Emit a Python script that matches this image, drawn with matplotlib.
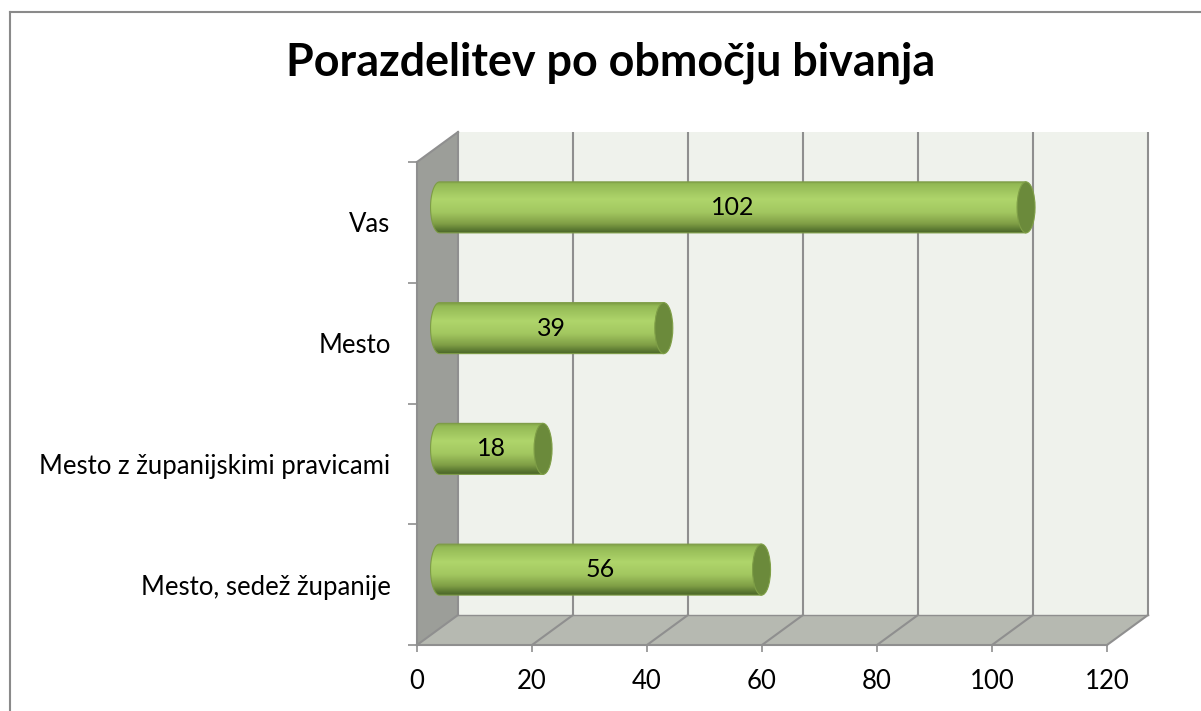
import numpy as np
import matplotlib
matplotlib.use("Agg")
import matplotlib.pyplot as plt
from matplotlib.patches import Polygon, Rectangle, PathPatch, Ellipse
from matplotlib.path import Path
from matplotlib.lines import Line2D
from matplotlib.colors import LinearSegmentedColormap

# ---- data ----
categories = ["Mesto, sedež županije", "Mesto z županijskimi pravicami", "Mesto", "Vas"]
values = [56, 18, 39, 102]
xticks = [0, 20, 40, 60, 80, 100, 120]
title = "Porazdelitev po območju bivanja"

FONT = ["Lato", "DejaVu Sans"]
plt.rcParams["font.family"] = FONT

W, H = 1201, 711
fig = plt.figure(figsize=(W / 100, H / 100), dpi=100)
fig.patch.set_facecolor("white")

# front plane of the plot: x 417..1107 px, y 162..645 px
ax = fig.add_axes([417 / W, (H - 645) / H, 690 / W, (645 - 162) / H])
XMAX = 120
ax.set_xlim(0, XMAX)
ax.set_ylim(-0.5, len(categories) - 0.5)
ax.patch.set_visible(False)
for s in ax.spines.values():
    s.set_visible(False)

px_x = 690 / XMAX          # pixels per x unit
px_y = (645 - 162) / len(categories)
dx = 41 / px_x             # depth offset in data units
dy = 30 / px_y
y0, y1 = -0.5, len(categories) - 0.5

grid_c = "#8f8f8f"
lw_grid = 1.5

# back wall
ax.add_patch(Rectangle((dx, y0 + dy), XMAX, y1 - y0, facecolor="#eff2ec",
                       edgecolor="none", zorder=1, clip_on=False))
# floor
ax.add_patch(Polygon([(0, y0), (XMAX, y0), (XMAX + dx, y0 + dy), (dx, y0 + dy)],
                     closed=True, facecolor="#b6b9b1", edgecolor="none",
                     zorder=1, clip_on=False))
# left wall
ax.add_patch(Polygon([(0, y0), (dx, y0 + dy), (dx, y1 + dy), (0, y1)],
                     closed=True, facecolor="#9c9e99", edgecolor="none",
                     zorder=1, clip_on=False))

# gridlines on back wall and floor
for t in xticks:
    if t > 0:
        ax.plot([t + dx, t + dx], [y0 + dy, y1 + dy], color=grid_c, lw=lw_grid,
                zorder=2, clip_on=False, solid_capstyle="butt")
    ax.plot([t, t + dx], [y0, y0 + dy], color=grid_c, lw=lw_grid, zorder=2,
            clip_on=False)
# left wall edges
ax.plot([dx, dx], [y0 + dy, y1 + dy], color=grid_c, lw=lw_grid, zorder=2, clip_on=False)
ax.plot([0, dx], [y1, y1 + dy], color=grid_c, lw=lw_grid, zorder=2, clip_on=False)
ax.plot([0, 0], [y0, y1], color=grid_c, lw=lw_grid, zorder=2, clip_on=False)
ax.plot([0, XMAX], [y0, y0], color=grid_c, lw=lw_grid, zorder=2, clip_on=False)
ax.plot([dx, XMAX + dx], [y0 + dy, y0 + dy], color=grid_c, lw=1.0, zorder=2, clip_on=False)

# cylinders
cmap = LinearSegmentedColormap.from_list("cyl", [
    (0.00, "#7e9f45"),
    (0.06, "#93b955"),
    (0.35, "#afd56b"),
    (0.60, "#a2c760"),
    (0.82, "#809f46"),
    (0.93, "#5d7b33"),
    (1.00, "#4a6428"),
])
grad = np.linspace(0, 1, 256).reshape(-1, 1)
h = 25.5 / px_y
rx = 9.0 / px_x
off = 0.55 * dx
for i, (cat, v) in enumerate(zip(categories, values)):
    yc = i + dy / 2
    xs = off
    xe = v + off
    theta = np.linspace(np.pi / 2, 3 * np.pi / 2, 40)
    verts = [(xs, yc - h), (xe, yc - h), (xe, yc + h), (xs, yc + h)] + \
            [(xs + rx * np.cos(t), yc + h * np.sin(t)) for t in theta] + [(xs, yc - h)]
    path = Path(verts)
    body = PathPatch(path, facecolor="none", edgecolor="#7d9c46", lw=0.8,
                     zorder=4, clip_on=False)
    ax.add_patch(body)
    im = ax.imshow(grad, cmap=cmap, aspect="auto", origin="upper",
                   extent=(xs - rx, xe, yc - h, yc + h), zorder=3,
                   interpolation="bilinear")
    im.set_clip_path(body)
    ax.add_patch(Ellipse((xe, yc), 2 * rx, 2 * h, facecolor="#6b8a3b",
                         edgecolor="#7f9f47", lw=0.8, zorder=5, clip_on=False))
    ax.text((xs + xe) / 2, yc, str(v), ha="center", va="center", fontsize=18,
            color="black", zorder=6)

ax.set_xlim(0, XMAX)
ax.set_ylim(y0, y1)
ax.set_aspect("auto")

# ticks
ax.set_xticks(xticks)
ax.set_xticklabels([str(t) for t in xticks], fontsize=18.5)
ax.tick_params(axis="x", length=5, width=1.2, color=grid_c, pad=12)
ax.set_yticks(range(len(categories)))
ax.set_yticklabels(categories, fontsize=18.5)
ax.tick_params(axis="y", length=0, pad=19)
ax.set_yticks([y0 + k for k in range(len(categories) + 1)], minor=True)
ax.tick_params(axis="y", which="minor", length=6.5, width=1.2, color=grid_c)

# title
fig.text(611 / W, 1 - 63 / H, title, ha="center", va="center", fontsize=32.3,
         fontweight="bold")

# outer border (partially visible)
fig.add_artist(Line2D([9.5 / W, 9.5 / W], [0, 1 - 11.5 / H], color="#8a8a8a", lw=1.5,
                      transform=fig.transFigure))
fig.add_artist(Line2D([9.5 / W, 1], [1 - 11.5 / H, 1 - 11.5 / H], color="#8a8a8a", lw=1.5,
                      transform=fig.transFigure))

fig.savefig("out.png", dpi=100)
